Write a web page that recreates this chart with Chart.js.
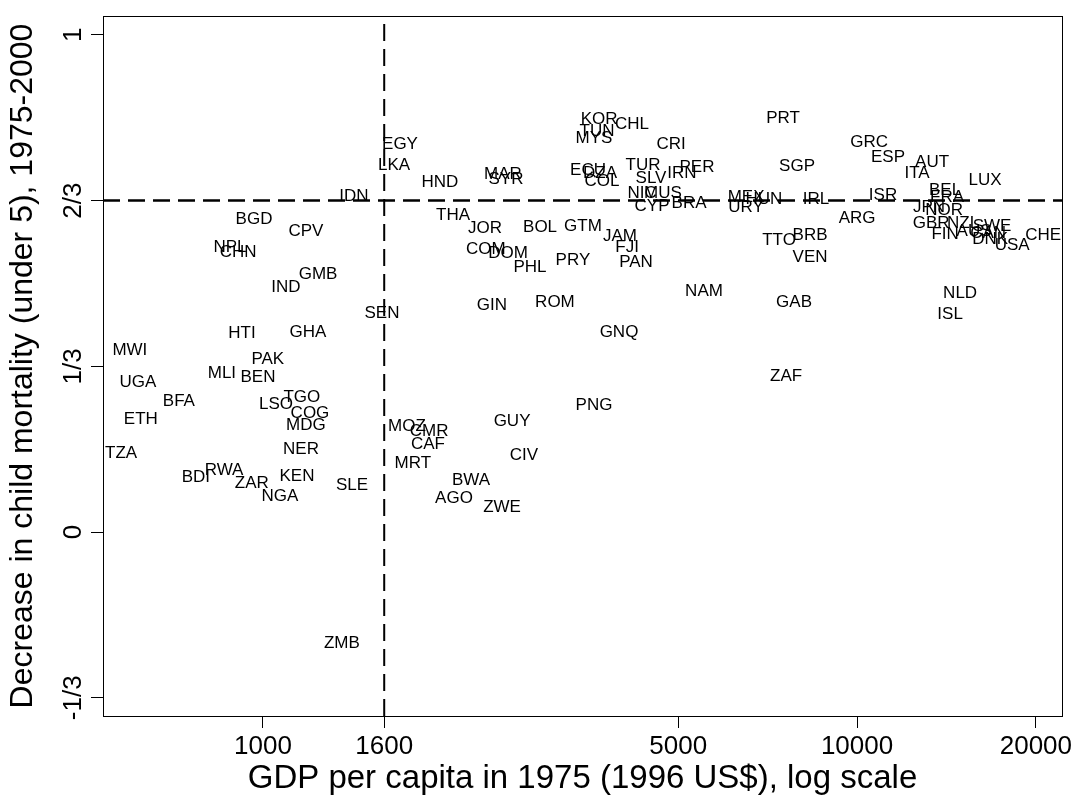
<!DOCTYPE html>
<html>
<head>
<meta charset="utf-8">
<title>Child mortality decline vs GDP per capita</title>
<script src="https://cdn.jsdelivr.net/npm/chart.js@4.4.0/dist/chart.umd.min.js"></script>
<style>
  body { margin: 0; background: #fff; }
  #wrap { width: 1084px; height: 810px; }
</style>
</head>
<body>
<div id="wrap"><canvas id="myChart" width="1084" height="810"></canvas></div>
<script>
// country codes, GDP per capita 1975 (1996 US$) and decrease in under-5 mortality 1975-2000
const countries = ['MWI','UGA','ETH','TZA','BFA','BDI','RWA','ZAR','NGA','KEN',
  'NER','SLE','MDG','COG','LSO','TGO','MLI','BEN','PAK','HTI',
  'GHA','SEN','IND','GMB','NPL','CHN','CPV','BGD','IDN','EGY',
  'LKA','HND','MAR','SYR','THA','JOR','COM','DOM','PHL','BOL',
  'GTM','PRY','JAM','FJI','PAN','GIN','ROM','GNQ','KOR','TUN',
  'MYS','CHL','CRI','ECU','DZA','COL','TUR','IRN','PER','SLV',
  'NIC','MUS','CYP','BRA','MEX','URY','HUN','IRL','PRT','SGP',
  'ARG','TTO','BRB','VEN','NAM','GAB','ZAF','GRC','ESP','AUT',
  'ITA','LUX','ISR','BEL','FRA','JPN','NOR','GBR','NZL','FIN',
  'AUS','SWE','CAN','DNK','USA','CHE','NLD','ISL','PNG','GUY',
  'MOZ','CMR','CAF','CIV','MRT','BWA','AGO','ZWE','ZMB'];

const gdp1975 = [597,616,623,577,722,771,860,958,1068,1141,
  1159,1412,1181,1200,1052,1163,853,981,1019,922,
  1191,1586,1093,1238,880,908,1181,966,1423,1701,
  1662,1986,2535,2565,2089,2364,2373,2585,2815,2927,
  3457,3325,3990,4101,4246,2429,3101,3975,3679,3650,
  3608,4180,4863,3525,3693,3722,4363,5074,5378,4500,
  4346,4714,4518,5214,6504,6504,6971,8531,7505,7925,
  10000,7390,8334,8334,5526,7833,7595,10476,11276,13375,
  12618,16425,11060,14067,14178,13219,14015,13323,15085,14067,
  15740,16877,16617,16747,18239,20567,14911,14344,3608,2626,
  1747,1904,1896,2750,1788,2240,2097,2526,1358];

const mortDecrease = [0.366,0.302,0.227,0.159,0.262,0.111,0.125,0.099,0.072,0.113,
  0.167,0.095,0.215,0.239,0.256,0.272,0.320,0.312,0.348,0.400,
  0.402,0.439,0.493,0.519,0.573,0.563,0.604,0.630,0.676,0.779,
  0.738,0.704,0.720,0.710,0.638,0.610,0.569,0.561,0.533,0.612,
  0.614,0.547,0.594,0.573,0.543,0.457,0.463,0.402,0.831,0.807,
  0.791,0.821,0.779,0.728,0.722,0.706,0.738,0.722,0.734,0.712,
  0.682,0.682,0.656,0.662,0.674,0.654,0.670,0.670,0.833,0.736,
  0.632,0.586,0.596,0.553,0.485,0.463,0.314,0.783,0.753,0.744,
  0.722,0.708,0.678,0.688,0.674,0.654,0.648,0.622,0.622,0.598,
  0.604,0.614,0.600,0.588,0.577,0.596,0.481,0.437,0.254,0.223,
  0.213,0.203,0.177,0.155,0.139,0.105,0.068,0.050,-0.223];

// axis ticks
const xTicks = [1000, 1600, 5000, 10000, 20000];
const yTicks = [-1/3, 0, 1/3, 2/3, 1];
const yTickLabels = ['-1/3', '0', '1/3', '2/3', '1'];

// dashed reference lines
const refGdp = 1600;
const refDecrease = 2/3;

const xMin = 538, xMax = 22130;
const yMin = -0.370, yMax = 1.038;

const FONT = '"Liberation Sans", Arial, Helvetica, sans-serif';
Chart.defaults.font.family = FONT;
Chart.defaults.color = '#000';

const points = countries.map((c, i) => ({ x: gdp1975[i], y: mortDecrease[i] }));

// write the country code centred on each (invisible) point
const countryLabels = {
  id: 'countryLabels',
  afterDatasetsDraw(chart) {
    const ctx = chart.ctx;
    const meta = chart.getDatasetMeta(0);
    ctx.save();
    ctx.font = '17px ' + FONT;
    ctx.fillStyle = '#000';
    ctx.textAlign = 'center';
    ctx.textBaseline = 'middle';
    meta.data.forEach((pt, i) => {
      ctx.fillText(countries[i], pt.x, pt.y);
    });
    ctx.restore();
  }
};

// box round the plot region
const plotBox = {
  id: 'plotBox',
  afterDraw(chart) {
    const a = chart.chartArea;
    const ctx = chart.ctx;
    ctx.save();
    ctx.strokeStyle = '#000';
    ctx.lineWidth = 1;
    ctx.strokeRect(a.left + 0.5, a.top + 0.5, a.right - a.left, a.bottom - a.top);
    ctx.restore();
  }
};

var ctx = document.getElementById('myChart').getContext('2d');
var myChart = new Chart(ctx, {
  type: 'scatter',
  data: {
    datasets: [{
      label: 'countries',
      data: points,
      pointRadius: 0,
      pointHoverRadius: 0
    }, {
      label: 'gdp 1600',
      data: [{ x: refGdp, y: yMin }, { x: refGdp, y: yMax }],
      showLine: true,
      borderColor: '#000',
      borderWidth: 2,
      borderDash: [17, 8],
      pointRadius: 0
    }, {
      label: 'decrease 2/3',
      data: [{ x: xMin, y: refDecrease }, { x: xMax, y: refDecrease }],
      showLine: true,
      borderColor: '#000',
      borderWidth: 2.5,
      borderDash: [17, 8],
      pointRadius: 0
    }]
  },
  options: {
    responsive: false,
    animation: false,
    events: [],
    layout: { padding: { left: 0, right: 22, top: 16, bottom: 0 } },
    plugins: {
      legend: { display: false },
      tooltip: { enabled: false }
    },
    scales: {
      x: {
        type: 'logarithmic',
        min: xMin,
        max: xMax,
        afterBuildTicks: s => { s.ticks = xTicks.map(v => ({ value: v })); },
        afterFit: s => { s.height = 94; },
        border: { display: false },
        grid: { drawOnChartArea: false, drawTicks: true, tickLength: 12, color: '#000' },
        ticks: {
          autoSkip: false,
          maxRotation: 0,
          padding: 3,
          color: '#000',
          font: { size: 26 },
          callback: v => String(v)
        },
        title: {
          display: true,
          text: 'GDP per capita in 1975 (1996 US$), log scale',
          color: '#000',
          font: { size: 33 },
          padding: { top: 0, bottom: 11 }
        }
      },
      y: {
        min: yMin,
        max: yMax,
        afterBuildTicks: s => { s.ticks = yTicks.map(v => ({ value: v })); },
        afterFit: s => { s.width = 103; },
        border: { display: false },
        grid: { drawOnChartArea: false, drawTicks: true, tickLength: 12, color: '#000' },
        ticks: {
          minRotation: 90,
          maxRotation: 90,
          crossAlign: 'center',
          padding: -5,
          color: '#000',
          font: { size: 26 },
          callback: (v, i) => yTickLabels[i]
        },
        title: {
          display: true,
          text: 'Decrease in child mortality (under 5), 1975-2000',
          color: '#000',
          font: { size: 32 },
          padding: { top: 4, bottom: 0 }
        }
      }
    }
  },
  plugins: [countryLabels, plotBox]
});
</script>
</body>
</html>
